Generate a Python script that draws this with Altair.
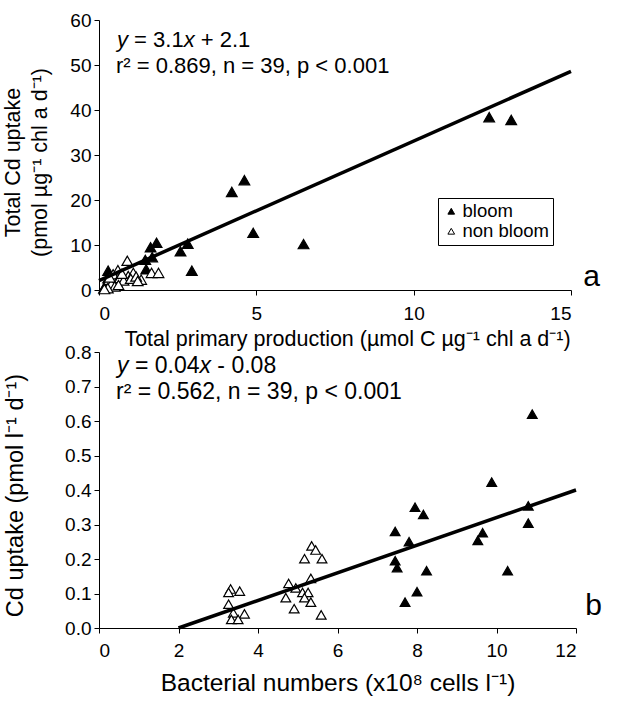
import altair as alt
import pandas as pd

FONT = "Liberation Sans"

# ---- Panel a: total Cd uptake vs total primary production ----
a_bloom_x = [12.4, 13.1, 4.22, 4.62, 4.90, 6.50, 2.82, 2.59, 1.83, 1.64, 1.47, 1.69, 1.50, 2.95, 0.29, 0.29, 0.22, 0.16]
a_bloom_y = [38.4, 37.8, 21.8, 24.4, 12.7, 10.2, 10.3, 8.6, 10.5, 9.5, 6.7, 7.3, 4.6, 4.3, 4.3, 2.6, 1.2, 0.4]
a_non_x = [0.90, 0.60, 0.93, 1.09, 1.34, 1.67, 1.89, 0.32, 0.45, 0.56, 0.67, 0.39, 0.78, 0.50,
           0.28, 1.01, 1.18, 0.73, 0.17, 0.62, 0.34, 1.23]
a_non_y = [6.5, 4.4, 3.1, 3.8, 2.3, 3.8, 3.8, 2.3, 3.5, 1.8, 2.7, 1.3, 2.1, 0.8,
           0.4, 2.5, 3.0, 3.6, 0.2, 1.1, 2.8, 2.0]
a_slope, a_intercept = 3.1, 2.1
a_fit_x = [0.0, 15.0]
a_x_ticks = [0, 5, 10, 15]
a_y_ticks = [0, 10, 20, 30, 40, 50, 60]

# ---- Panel b: Cd uptake vs bacterial numbers ----
b_bloom_x = [10.9, 9.88, 10.8, 10.8, 9.65, 9.53, 10.28, 8.16, 8.24, 7.45, 7.45, 7.50, 7.70, 7.80, 7.95, 8.00]
b_bloom_y = [0.620, 0.423, 0.354, 0.304, 0.276, 0.254, 0.166, 0.329, 0.166, 0.280, 0.195, 0.175, 0.075, 0.250, 0.350, 0.105]
b_non_x = [5.35, 5.45, 5.17, 5.61, 5.33, 4.77, 4.95, 5.12, 5.26, 4.70, 4.91, 5.17, 5.33, 5.59,
           3.31, 3.26, 3.54, 3.26, 3.38, 3.66, 3.33, 3.50]
b_non_y = [0.238, 0.226, 0.201, 0.201, 0.144, 0.129, 0.116, 0.103, 0.103, 0.088, 0.056, 0.088, 0.075, 0.038,
           0.113, 0.103, 0.107, 0.069, 0.044, 0.041, 0.025, 0.025]
b_slope, b_intercept = 0.04, -0.08
b_fit_x = [2.0, 12.0]
b_x_ticks = [0, 2, 4, 6, 8, 10, 12]
b_y_ticks = [0.0, 0.1, 0.2, 0.3, 0.4, 0.5, 0.6, 0.7, 0.8]

GROUPS = ["bloom", "non bloom"]
fill_scale = alt.Scale(domain=GROUPS, range=["black", "white"])


def points_frame(bx, by, nx, ny):
    return pd.DataFrame({
        "x": bx + nx,
        "y": by + ny,
        "group": [GROUPS[0]] * len(bx) + [GROUPS[1]] * len(nx),
    })


def fit_frame(xs, slope, intercept):
    return pd.DataFrame({"x": xs, "y": [slope * v + intercept for v in xs]})


def label(txt, x, y, italic=False, size=20, align="left", baseline="middle"):
    return alt.Chart(alt.Data(values=[{}])).mark_text(
        text=txt, align=align, baseline=baseline, font=FONT, fontSize=size,
        fontStyle="italic" if italic else "normal", color="black",
    ).encode(x=alt.value(x), y=alt.value(y))


def equation(parts, x0, y, size):
    """Lay out an equation from (text, italic) pieces using Arial-metric widths."""
    widths = {" ": 0.278, "=": 0.584, "+": 0.584, "-": 0.333, ".": 0.278,
              "x": 0.5, "y": 0.5}
    marks, x = [], x0
    for txt, italic in parts:
        lead = len(txt) - len(txt.lstrip(" "))
        x += lead * widths[" "] * size
        body = txt.strip(" ")
        marks.append(label(body, x, y, italic=italic, size=size))
        x += sum(widths.get(c, 0.556) for c in body) * size
    return marks


# ---------- panel a ----------
AW, AH = 472, 270
A_TXT = 22
a_x = alt.X("x:Q", scale=alt.Scale(domain=[0, 15], nice=False),
            axis=alt.Axis(values=a_x_ticks, labelPadding=9, titlePadding=5,
                          titleFontSize=21.5, titleX=248, titleAlign="center",
                          title="Total primary production (µmol C µg⁻¹ chl a d⁻¹)"))
a_y = alt.Y("y:Q", scale=alt.Scale(domain=[0, 60], nice=False),
            axis=alt.Axis(values=a_y_ticks, labelOverlap=False, tickCount=7,
                          title=["Total Cd uptake", "(pmol µg⁻¹ chl a d⁻¹)"],
                          titleFontSize=21.5, titleX=-86, titleY=142, titleAngle=270,
                          titleAlign="center", titleBaseline="middle",
                          titleLineHeight=27))

a_points = alt.Chart(points_frame(a_bloom_x, a_bloom_y, a_non_x, a_non_y)).mark_point(
    shape="triangle-up", filled=True, size=115, stroke="black", strokeWidth=1.2, opacity=1
).encode(
    x=a_x, y=a_y,
    fill=alt.Fill("group:N", scale=fill_scale, legend=alt.Legend(
        title=None, orient="none", legendX=339, legendY=178, direction="vertical",
        strokeColor="black", fillColor="white", padding=4, cornerRadius=0,
        labelFont=FONT, labelFontSize=18.5, labelColor="black", labelOffset=2,
        symbolType="triangle-up", symbolSize=45, symbolStrokeColor="black",
        symbolStrokeWidth=1, rowPadding=1)),
)
a_line = alt.Chart(fit_frame(a_fit_x, a_slope, a_intercept)).mark_line(
    color="black", strokeWidth=3.5).encode(x=a_x, y=a_y)

a_text = equation([("y", True), (" = 3.1", False), ("x", True), (" + 2.1", False)],
                  18, 20, A_TXT) + [
    label("r² = 0.869, n = 39, p < 0.001", 17, 46, size=A_TXT),
    label("a", AW + 29, 266, size=30, align="right", baseline="alphabetic"),
]
panel_a = alt.layer(a_points, a_line, *a_text).properties(width=AW, height=AH)

# ---------- panel b ----------
BW, BH = 477, 276
B_TXT = 23
b_x = alt.X("x:Q", scale=alt.Scale(domain=[0, 12], nice=False),
            axis=alt.Axis(values=b_x_ticks, labelPadding=8, titlePadding=11,
                          titleFontSize=24.5,
                          title="Bacterial numbers (x10⁸ cells l⁻¹)"))
b_y = alt.Y("y:Q", scale=alt.Scale(domain=[0, 0.8], nice=False),
            axis=alt.Axis(values=b_y_ticks, format=".1f", labelOverlap=False,
                          tickCount=9,
                          title="Cd uptake (pmol l⁻¹ d⁻¹)", titleFontSize=23.5,
                          titleX=-84, titleY=143, titleAngle=270,
                          titleAlign="center", titleBaseline="middle"))

b_points = alt.Chart(points_frame(b_bloom_x, b_bloom_y, b_non_x, b_non_y)).mark_point(
    shape="triangle-up", filled=True, size=95, stroke="black", strokeWidth=1.2, opacity=1
).encode(x=b_x, y=b_y, fill=alt.Fill("group:N", scale=fill_scale, legend=None))
b_line = alt.Chart(fit_frame(b_fit_x, b_slope, b_intercept)).mark_line(
    color="black", strokeWidth=3.5).encode(x=b_x, y=b_y)

b_text = equation([("y", True), (" = 0.04", False), ("x", True), (" - 0.08", False)],
                  18, 14, B_TXT) + [
    label("r² = 0.562, n = 39, p < 0.001", 17, 40, size=B_TXT),
    label("b", BW + 26, 263, size=30, align="right", baseline="alphabetic"),
]
panel_b = alt.layer(b_points, b_line, *b_text).properties(width=BW, height=BH)

chart = alt.vconcat(panel_a, panel_b, spacing=62, bounds="flush").resolve_scale(
    x="independent", y="independent", fill="independent"
).properties(
    padding={"left": 2, "top": 11, "right": 0, "bottom": 4}
).configure_view(stroke=None).configure_axis(
    domainColor="black", tickColor="black", labelColor="black", titleColor="black",
    labelFont=FONT, titleFont=FONT, labelFontSize=19, titleFontSize=22,
    titleFontWeight="normal", tickSize=5, domainWidth=1, tickWidth=1,
    grid=False, labelPadding=3, titlePadding=6, labelOverlap=False,
)

chart.save("out.html", embed_options={"renderer": "svg", "actions": False})
